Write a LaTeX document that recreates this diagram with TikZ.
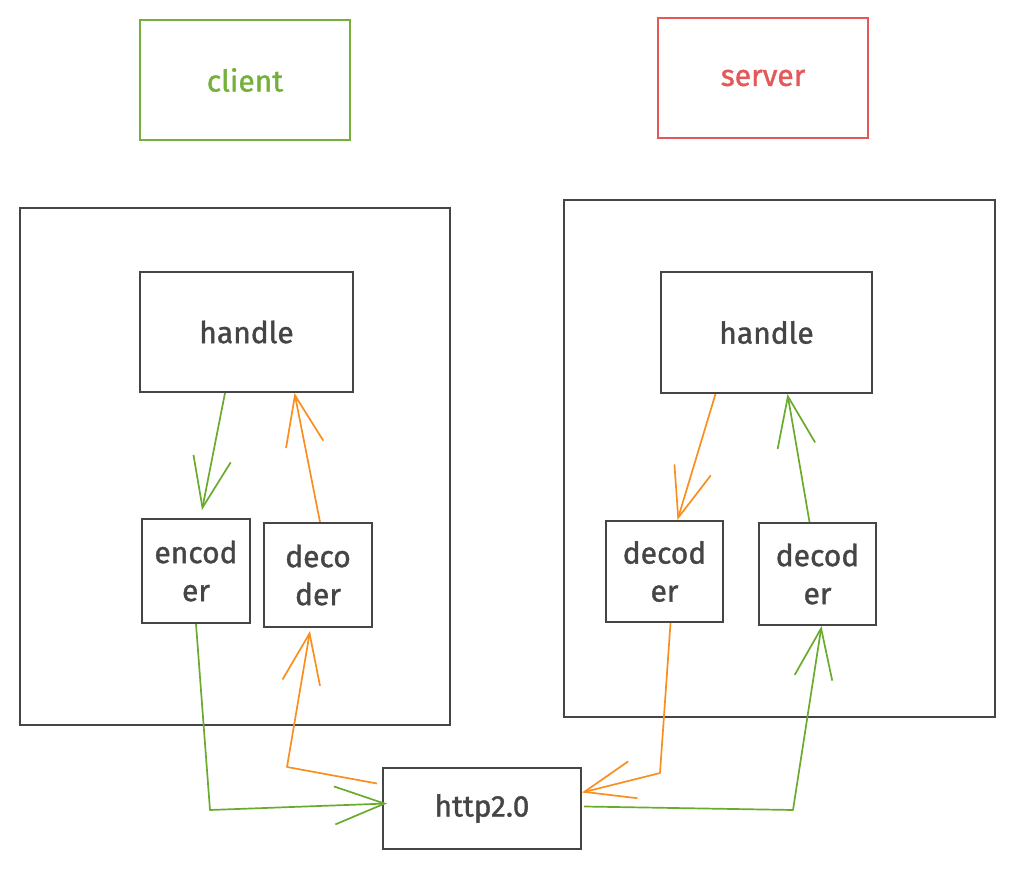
\documentclass[tikz,border=0pt]{standalone}
\usepackage{fontspec}
\setmainfont{Fira Sans}
\newfontfamily\handfont{Fira Sans}[FakeBold=1.2]
\usetikzlibrary{arrows.meta}
\definecolor{cgreen}{HTML}{74B03A}
\definecolor{agreen}{HTML}{6AAB2E}
\definecolor{corange}{HTML}{FA8E1E}
\definecolor{cred}{HTML}{E5585A}
\definecolor{cdark}{HTML}{454545}
\tikzset{
  box/.style={draw=cdark, line width=2pt, text=cdark, inner sep=0pt, align=center,
    font=\handfont\fontsize{30}{38}\selectfont},
  head/.style={draw, line width=2pt, inner sep=0pt, font=\handfont\fontsize{30}{38}\selectfont},
  conn/.style={line width=1.7pt, line join=round,
    -{Straight Barb[length=50pt, width=38pt, line width=1.7pt]}},
  gconn/.style={conn, draw=agreen},
  oconn/.style={conn, draw=corange},
}
\begin{document}
\begin{tikzpicture}[x=1pt, y=-1pt]
\useasboundingbox (0,0) rectangle (1013,869);
\node[head, draw=cgreen, text=cgreen, minimum width=210pt, minimum height=120pt] (client) at (245,80) {client};
\node[head, draw=cred, text=cred, minimum width=210pt, minimum height=120pt] (server) at (763,78) {server};
\node[box, minimum width=430pt, minimum height=517pt] (lbig) at (235,466.5) {};
\node[box, minimum width=431pt, minimum height=517pt] (rbig) at (779.5,458.5) {};
\node[box, minimum width=213pt, minimum height=120pt] (lhandle) at (246.5,332) {handle};
\node[box, minimum width=211pt, minimum height=121pt] (rhandle) at (766.5,332.5) {handle};
\node[box, minimum width=108pt, minimum height=104pt] (enc) at (196,571) {encod\\er};
\node[box, minimum width=108pt, minimum height=104pt] (ldec) at (318,575) {deco\\der};
\node[box, minimum width=117pt, minimum height=101pt] (rdeca) at (664.5,571.5) {decod\\er};
\node[box, minimum width=117pt, minimum height=102pt] (rdecb) at (817.5,574) {decod\\er};
\node[box, minimum width=198pt, minimum height=81pt] (http) at (482,808.5) {http2.0};
\coordinate (b1) at (210,810);
\coordinate (b2) at (287,767);
\coordinate (b3) at (660,773);
\coordinate (b4) at (793,810);
\draw[gconn] ([xshift=-21.5pt]lhandle.south) -- ([xshift=6pt,yshift=8pt]enc.north);
\draw[oconn] ([xshift=2pt]ldec.north) -- ([xshift=48pt]lhandle.south);
\draw[gconn] (enc.south) -- (b1) -- ([xshift=5pt,yshift=5pt]http.west);
\draw[oconn] ([xshift=-5pt,yshift=25pt]http.west) -- (b2) -- ([xshift=-8pt,yshift=-3pt]ldec.south);
\draw[oconn] ([xshift=6pt]rdeca.south) -- (b3) -- ([yshift=16pt]http.east);
\draw[gconn] ([xshift=2pt,yshift=2pt]http.east) -- (b4) -- ([xshift=4pt]rdecb.south);
\draw[oconn] ([xshift=-51pt]rhandle.south) -- ([xshift=13pt]rdeca.north);
\draw[gconn] ([xshift=-8pt]rdecb.north) -- ([xshift=21pt]rhandle.south);
\end{tikzpicture}
\end{document}
